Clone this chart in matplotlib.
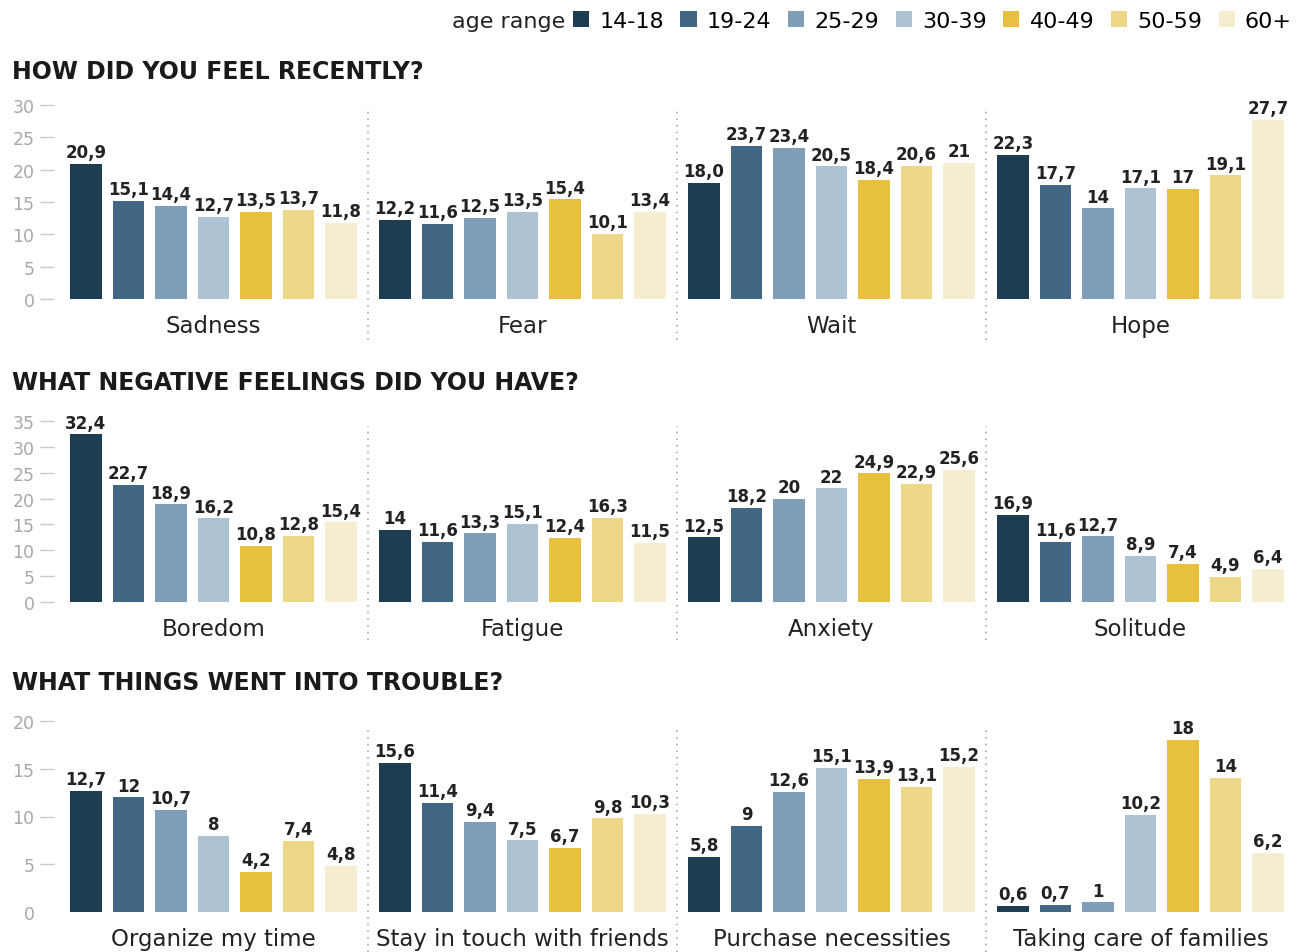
import numpy as np
import matplotlib.pyplot as plt
from matplotlib.patches import Patch

ages = ['14-18', '19-24', '25-29', '30-39', '40-49', '50-59', '60+']
colors = ['#1d3d53', '#416785', '#7e9fb7', '#adc2d3', '#e7c03f', '#edd889', '#f6eed0']

titles = ['HOW DID YOU FEEL RECENTLY?',
          'WHAT NEGATIVE FEELINGS DID YOU HAVE?',
          'WHAT THINGS WENT INTO TROUBLE?']
groups_1 = ['Sadness', 'Fear', 'Wait', 'Hope']
groups_2 = ['Boredom', 'Fatigue', 'Anxiety', 'Solitude']
groups_3 = ['Organize my time', 'Stay in touch with friends', 'Purchase necessities',
            'Taking care of families']

# values as printed on the chart (comma decimals)
vals_1 = [['20,9', '15,1', '14,4', '12,7', '13,5', '13,7', '11,8'],
          ['12,2', '11,6', '12,5', '13,5', '15,4', '10,1', '13,4'],
          ['18,0', '23,7', '23,4', '20,5', '18,4', '20,6', '21'],
          ['22,3', '17,7', '14', '17,1', '17', '19,1', '27,7']]
vals_2 = [['32,4', '22,7', '18,9', '16,2', '10,8', '12,8', '15,4'],
          ['14', '11,6', '13,3', '15,1', '12,4', '16,3', '11,5'],
          ['12,5', '18,2', '20', '22', '24,9', '22,9', '25,6'],
          ['16,9', '11,6', '12,7', '8,9', '7,4', '4,9', '6,4']]
vals_3 = [['12,7', '12', '10,7', '8', '4,2', '7,4', '4,8'],
          ['15,6', '11,4', '9,4', '7,5', '6,7', '9,8', '10,3'],
          ['5,8', '9', '12,6', '15,1', '13,9', '13,1', '15,2'],
          ['0,6', '0,7', '1', '10,2', '18', '14', '6,2']]

yticks = [[0, 5, 10, 15, 20, 25, 30],
          [0, 5, 10, 15, 20, 25, 30, 35],
          [0, 5, 10, 15, 20]]

W, H = 1298, 953
fig = plt.figure(figsize=(W / 100, H / 100), dpi=100)
plt.rcParams['font.family'] = 'DejaVu Sans'

gpitch = 7.27
# pixel boxes: (top of ymax, y=0 baseline, title y, ymax)
rows = [(106, 300, 72, 30), (422, 603, 383, 35), (722, 913, 683, 20)]
left_px, right_px = 54, 1292

for r, (groups, vals) in enumerate([(groups_1, vals_1), (groups_2, vals_2), (groups_3, vals_3)]):
    top, base, ty, ymax = rows[r]
    ax = fig.add_axes([left_px / W, 1 - base / H, (right_px - left_px) / W, (base - top) / H])
    for g in range(4):
        for i in range(7):
            s = vals[g][i]
            v = float(s.replace(',', '.'))
            x = g * gpitch + i
            ax.bar(x, v, width=0.74, color=colors[i], edgecolor='none')
            ax.text(x, v + ymax * 0.015, s, ha='center', va='bottom',
                    fontsize=12, fontweight='bold', color='#222222')
        if g > 0:
            xs = g * gpitch - (gpitch - 6) / 2
            ax.plot([xs, xs], [-0.21, 0.97], transform=ax.get_xaxis_transform(),
                    clip_on=False, color='#aaaaaa', lw=1.2, ls=(0, (1, 3)))
    ax.set_xlim(-(86 - left_px) / 42.5, (right_px - 86) / 42.5)
    ax.set_ylim(0, ymax)
    ax.set_xticks([g * gpitch + 3 for g in range(4)])
    ax.set_xticklabels(groups, fontsize=16.5, color='#222222')
    ax.tick_params(axis='x', length=0, pad=11)
    ax.set_yticks(yticks[r])
    ax.tick_params(axis='y', length=10, width=1, color='#c8c8c8', labelsize=12.5,
                   labelcolor='#a8a8a8', pad=4)
    if r == 2:
        ax.yaxis.get_major_ticks()[0].tick1line.set_visible(False)
    for sp in ax.spines.values():
        sp.set_visible(False)
    fig.text(12 / W, 1 - ty / H, titles[r], fontsize=17, fontweight='bold',
             color='#1a1a1a', va='center', ha='left')

# legend
handles = [Patch(facecolor=c, edgecolor='none') for c in colors]
fig.legend(handles, ages, loc='center right', bbox_to_anchor=(1292 / W, 1 - 22 / H),
           ncol=7, frameon=False, fontsize=16, handlelength=0.73, handleheight=0.73,
           handletextpad=0.45, columnspacing=0.75, borderpad=0, borderaxespad=0)
fig.text(565 / W, 1 - 22 / H, 'age range', fontsize=16, ha='right', va='center',
         color='#222222')

fig.savefig('out.png', dpi=100)
